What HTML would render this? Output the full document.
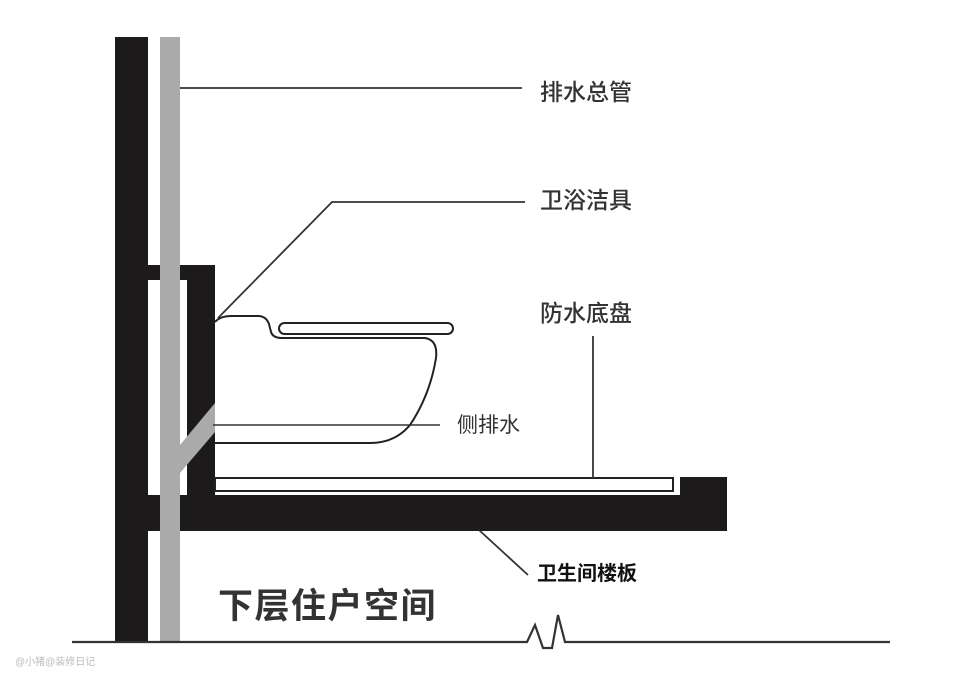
<!DOCTYPE html>
<html><head><meta charset="utf-8"><style>
html,body{margin:0;padding:0;background:#fff;}
svg{display:block}
text{font-family:"Liberation Sans","Noto Sans CJK SC",sans-serif;}
</style></head><body>
<svg width="960" height="686" viewBox="0 0 960 686" xmlns="http://www.w3.org/2000/svg">
<rect width="960" height="686" fill="#fff"/>
<rect x="115" y="37" width="33" height="605" fill="#1c1a1a"/>
<rect x="148" y="265" width="67" height="15" fill="#1c1a1a"/>
<rect x="187" y="265" width="28" height="232" fill="#1c1a1a"/>
<rect x="148" y="495" width="579" height="36" fill="#1c1a1a"/>
<rect x="680" y="477" width="47" height="54" fill="#1c1a1a"/>
<rect x="215" y="478" width="458" height="13" fill="#fff" stroke="#222" stroke-width="2"/>
<polygon points="180,445 215,403 215,432 180,473" fill="#aaa"/>
<rect x="160" y="37" width="20" height="605" fill="#aaa"/>
<path d="M215,322 Q220,316 232,316 L258,316 Q266,316 269,324 L271,332 Q273,338 282,338 L425,338 Q438,340 436,358 Q430,395 410,425 Q395,443 370,443 L215,443" fill="none" stroke="#222" stroke-width="2"/>
<rect x="279" y="323" width="174" height="11" rx="5.5" fill="#fff" stroke="#222" stroke-width="2"/>
<line x1="213" y1="425" x2="440" y2="425" stroke="#333" stroke-width="1.6"/>
<line x1="180" y1="88" x2="522" y2="88" stroke="#333" stroke-width="1.8"/>
<polyline points="525,202 332,202 218,318" fill="none" stroke="#333" stroke-width="1.8"/>
<line x1="593" y1="336" x2="593" y2="478" stroke="#333" stroke-width="1.8"/>
<line x1="479" y1="530" x2="528" y2="575" stroke="#333" stroke-width="1.8"/>
<text x="540" y="100" font-size="23" font-weight="500" fill="#333">排水总管</text>
<text x="540" y="208" font-size="23" font-weight="500" fill="#333">卫浴洁具</text>
<text x="540" y="321" font-size="23" font-weight="500" fill="#333">防水底盘</text>
<text x="457" y="432" font-size="21" fill="#333">侧排水</text>
<text x="537" y="580" font-size="20" font-weight="bold" fill="#111">卫生间楼板</text>
<text x="218" y="618" font-size="35" font-weight="bold" fill="#333" letter-spacing="1.5">下层住户空间</text>
<polyline points="72,642 527,642 535,625 543,648 552,648 558,615 565,642 890,642" fill="none" stroke="#333" stroke-width="2.2"/>
<text x="15" y="665" font-size="10" fill="#bbb">@小猪@装修日记</text>
</svg>
</body></html>
